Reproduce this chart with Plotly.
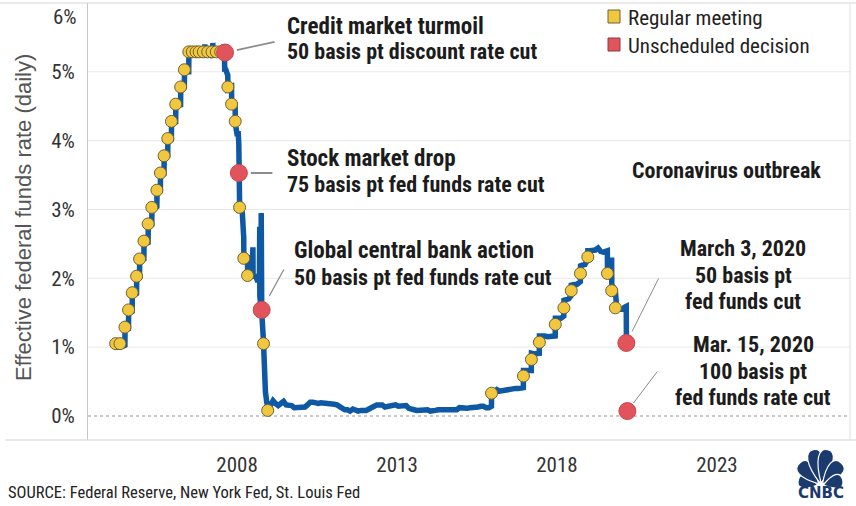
import plotly.graph_objects as go
import math

# ---------------- data ----------------
rate_dates = [
    "2004-03-10", "2004-04-01", "2004-05-01", "2004-06-01", "2004-06-29", "2004-07-01",
    "2004-08-09", "2004-08-11", "2004-09-20", "2004-09-22", "2004-11-09", "2004-11-11",
    "2004-12-13", "2004-12-15",
    "2005-02-01", "2005-02-03", "2005-03-21", "2005-03-23", "2005-05-02", "2005-05-04",
    "2005-06-29", "2005-07-01", "2005-08-08", "2005-08-10", "2005-09-19", "2005-09-21",
    "2005-10-31", "2005-11-02", "2005-12-12", "2005-12-14",
    "2006-01-30", "2006-02-01", "2006-03-27", "2006-03-29", "2006-05-09", "2006-05-11",
    "2006-06-28", "2006-06-30", "2006-09-01", "2006-12-28", "2006-12-29", "2007-01-02",
    "2007-03-29", "2007-03-30", "2007-04-02", "2007-06-29", "2007-08-01", "2007-08-09",
    "2007-08-13", "2007-08-20", "2007-09-17", "2007-09-19", "2007-10-30", "2007-11-01",
    "2007-12-10", "2007-12-12", "2007-12-31", "2008-01-15", "2008-01-21", "2008-01-23",
    "2008-01-29", "2008-01-31", "2008-02-15", "2008-03-01", "2008-03-17", "2008-03-19",
    "2008-04-15", "2008-04-29", "2008-05-01", "2008-05-20", "2008-06-15", "2008-06-30",
    "2008-07-02", "2008-07-20", "2008-08-10", "2008-08-25", "2008-09-12", "2008-09-16",
    "2008-09-17", "2008-09-30", "2008-10-03", "2008-10-06", "2008-10-09", "2008-10-28",
    "2008-10-30", "2008-11-05", "2008-11-20", "2008-12-05", "2008-12-20",
    "2009-01-15", "2009-02-15", "2009-03-15", "2009-04-15", "2009-05-15", "2009-06-15",
    "2009-07-15", "2009-08-15", "2009-09-15", "2009-10-15", "2009-11-15", "2009-12-15",
    "2010-01-15", "2010-02-15", "2010-03-15", "2010-04-15", "2010-05-15", "2010-06-15",
    "2010-07-15", "2010-08-15", "2010-09-15", "2010-10-15", "2010-11-15", "2010-12-15",
    "2011-01-15", "2011-02-15", "2011-03-15", "2011-04-15", "2011-05-15", "2011-06-15",
    "2011-07-15", "2011-08-15", "2011-09-15", "2011-10-15", "2011-11-15", "2011-12-15",
    "2012-01-15", "2012-02-15", "2012-03-15", "2012-04-15", "2012-05-15", "2012-06-15",
    "2012-07-15", "2012-08-15", "2012-09-15", "2012-10-15", "2012-11-15", "2012-12-15",
    "2013-01-15", "2013-02-15", "2013-03-15", "2013-04-15", "2013-05-15", "2013-06-15",
    "2013-07-15", "2013-08-15", "2013-09-15", "2013-10-15", "2013-11-15", "2013-12-15",
    "2014-01-15", "2014-02-15", "2014-03-15", "2014-04-15", "2014-05-15", "2014-06-15",
    "2014-07-15", "2014-08-15", "2014-09-15", "2014-10-15", "2014-11-15", "2014-12-15",
    "2015-01-15", "2015-02-15", "2015-03-15", "2015-04-15", "2015-05-15", "2015-06-15",
    "2015-07-15", "2015-08-15", "2015-09-15", "2015-10-15", "2015-11-15", "2015-12-15",
    "2015-12-17",
    "2016-01-15", "2016-02-15", "2016-03-15", "2016-04-15", "2016-05-15", "2016-06-15",
    "2016-07-15", "2016-08-15", "2016-09-15", "2016-10-15", "2016-11-15", "2016-12-13",
    "2016-12-15",
    "2017-01-15", "2017-02-15", "2017-03-14", "2017-03-16", "2017-04-15", "2017-05-15",
    "2017-06-13", "2017-06-15", "2017-07-15", "2017-08-15", "2017-09-15", "2017-10-15",
    "2017-11-15", "2017-12-12", "2017-12-14",
    "2018-01-15", "2018-02-15", "2018-03-20", "2018-03-22", "2018-04-15", "2018-05-15",
    "2018-06-12", "2018-06-14", "2018-07-15", "2018-08-15", "2018-09-25", "2018-09-27",
    "2018-10-15", "2018-11-15", "2018-12-18", "2018-12-20",
    "2019-01-15", "2019-02-15", "2019-03-15", "2019-04-15", "2019-05-15", "2019-06-15",
    "2019-07-30", "2019-08-01", "2019-09-16", "2019-09-17", "2019-09-19", "2019-10-29",
    "2019-10-31", "2019-11-15", "2019-12-15", "2020-01-15", "2020-02-15", "2020-03-02",
    "2020-03-04",
]
rate_values = [
    1.00, 1.00, 1.00, 1.03, 1.00, 1.26,
    1.27, 1.50, 1.52, 1.75, 1.78, 2.00,
    2.02, 2.25,
    2.28, 2.50, 2.52, 2.75, 2.78, 3.00,
    3.04, 3.25, 3.27, 3.50, 3.52, 3.75,
    3.78, 4.00, 4.02, 4.25,
    4.27, 4.50, 4.52, 4.75, 4.78, 5.00,
    5.00, 5.25, 5.25, 5.25, 5.40, 5.25,
    5.26, 5.42, 5.25, 5.30, 5.26, 5.40,
    5.00, 5.05, 4.95, 4.75, 4.78, 4.50,
    4.55, 4.25, 4.10, 4.10, 3.95, 3.50,
    3.45, 3.00, 3.00, 2.95, 2.60, 2.25,
    2.30, 2.30, 2.00, 2.05, 2.00, 2.45,
    2.00, 2.05, 2.00, 1.95, 2.00, 2.75,
    1.75, 1.55, 2.95, 1.60, 1.50, 1.10,
    0.95, 0.65, 0.35, 0.20, 0.12,
    0.15, 0.22, 0.18, 0.15, 0.18, 0.21,
    0.16, 0.16, 0.15, 0.12, 0.12, 0.12,
    0.11, 0.13, 0.16, 0.20, 0.20, 0.18,
    0.18, 0.19, 0.19, 0.19, 0.19, 0.18,
    0.17, 0.16, 0.14, 0.10, 0.09, 0.09,
    0.07, 0.10, 0.08, 0.07, 0.08, 0.07,
    0.08, 0.10, 0.13, 0.14, 0.16, 0.16,
    0.16, 0.13, 0.14, 0.16, 0.16, 0.16,
    0.14, 0.15, 0.14, 0.15, 0.11, 0.09,
    0.09, 0.08, 0.08, 0.09, 0.08, 0.09,
    0.07, 0.07, 0.08, 0.09, 0.09, 0.10,
    0.09, 0.09, 0.09, 0.09, 0.09, 0.12,
    0.11, 0.11, 0.11, 0.12, 0.12, 0.13,
    0.13, 0.14, 0.14, 0.12, 0.12, 0.14,
    0.37,
    0.34, 0.38, 0.36, 0.37, 0.37, 0.38,
    0.39, 0.40, 0.40, 0.40, 0.41, 0.41,
    0.66,
    0.65, 0.66, 0.66, 0.91, 0.90, 0.91,
    0.91, 1.16, 1.15, 1.16, 1.15, 1.15,
    1.16, 1.16, 1.42,
    1.41, 1.42, 1.45, 1.68, 1.69, 1.70,
    1.75, 1.90, 1.91, 1.91, 1.95, 2.18,
    2.19, 2.20, 2.27, 2.40,
    2.40, 2.40, 2.41, 2.44, 2.39, 2.38,
    2.40, 2.13, 2.25, 2.30, 1.90, 1.83,
    1.58, 1.55, 1.55, 1.55, 1.58, 1.59,
    1.09,
]

regular_dates = [
    "2004-03-16", "2004-05-04", "2004-06-30", "2004-08-10", "2004-09-21", "2004-11-10",
    "2004-12-14", "2005-02-02", "2005-03-22", "2005-05-03", "2005-06-30", "2005-08-09",
    "2005-09-20", "2005-11-01", "2005-12-13", "2006-01-31", "2006-03-28", "2006-05-10",
    "2006-06-29", "2006-08-08", "2006-09-20", "2006-10-25", "2006-12-12", "2007-01-31",
    "2007-03-21", "2007-05-09", "2007-06-28", "2007-08-07", "2007-09-18", "2007-10-31",
    "2007-12-11", "2008-01-30", "2008-03-18", "2008-04-30", "2008-10-29", "2008-12-16",
    "2015-12-16", "2016-12-14", "2017-03-15", "2017-06-14", "2017-12-13", "2018-03-21",
    "2018-06-13", "2018-09-26", "2018-12-19", "2019-07-31", "2019-09-18", "2019-10-30",
]
regular_values = [
    1.05, 1.05, 1.29, 1.54, 1.79, 2.03,
    2.28, 2.54, 2.79, 3.03, 3.28, 3.53,
    3.78, 4.03, 4.28, 4.53, 4.78, 5.03,
    5.29, 5.29, 5.29, 5.29, 5.29, 5.29,
    5.29, 5.29, 5.29, 5.29, 4.78, 4.53,
    4.28, 3.03, 2.29, 2.04, 1.05, 0.08,
    0.33, 0.58, 0.82, 1.07, 1.33, 1.57,
    1.82, 2.07, 2.31, 2.07, 1.82, 1.57,
]

unscheduled_dates = ["2007-08-17", "2008-01-22", "2008-10-08", "2020-03-03", "2020-03-15"]
unscheduled_values = [5.28, 3.53, 1.54, 1.06, 0.07]

ytick_vals = [0, 1, 2, 3, 4, 5]
ytick_text = ["0%", "1%", "2%", "3%", "4%", "5%"]
ytop_label = "6%"
xtick_vals = ["2008-01-01", "2013-01-01", "2018-01-01", "2023-01-01"]
xtick_text = ["2008", "2013", "2018", "2023"]

legend_labels = ["Regular meeting", "Unscheduled decision"]

# ---------------- style ----------------
W, H = 856, 506
ML, MR, MT, MB = 88, 6, 3, 66
PW, PH = W - ML - MR, H - MT - MB

BLUE = "#0f58a3"
YELLOW = "#f1c73f"
YELLOW_EDGE = "#6e6232"
RED = "#e2545b"
RED_EDGE = "#c9474e"
NAVY = "#1b3a6e"
NARROW = "Liberation Sans Narrow, Arial Narrow, Roboto Condensed, DejaVu Sans Condensed, sans-serif"
SANS = "Liberation Sans, Arial, sans-serif"


def px(x, y):
    """pixel position in the page -> paper coordinates"""
    return (x - ML) / PW, (MT + PH - y) / PH


fig = go.Figure()
fig.add_trace(go.Scatter(x=rate_dates, y=rate_values, mode="lines",
                         line=dict(color=BLUE, width=5.5), hoverinfo="skip"))
fig.add_trace(go.Scatter(x=regular_dates, y=regular_values, mode="markers",
                         marker=dict(size=12, color=YELLOW, line=dict(color=YELLOW_EDGE, width=1))))
fig.add_trace(go.Scatter(x=unscheduled_dates, y=unscheduled_values, mode="markers",
                         marker=dict(size=17, color=RED, line=dict(color=RED_EDGE, width=1))))

shapes = []
# gridlines
for v in ytick_vals[1:]:
    shapes.append(dict(type="line", xref="paper", yref="y", x0=0, x1=1, y0=v, y1=v,
                       line=dict(color="#e8e8e8", width=1), layer="below"))
shapes.append(dict(type="line", xref="paper", yref="y", x0=0, x1=1, y0=0, y1=0,
                   line=dict(color="#b8b8b8", width=1.5, dash="dot"), layer="below"))
# frame lines
x0p, _ = px(0, 0)
x1p, _ = px(856, 0)
shapes.append(dict(type="line", xref="paper", yref="paper", x0=x0p, x1=x1p, y0=1, y1=1,
                   line=dict(color="#d6d6d6", width=1)))
x0b, _ = px(5, 0)
shapes.append(dict(type="line", xref="paper", yref="paper", x0=x0b, x1=x1p, y0=0, y1=0,
                   line=dict(color="#d0d0d0", width=1.2)))
shapes.append(dict(type="line", xref="paper", yref="paper", x0=1, x1=1, y0=0, y1=1,
                   line=dict(color="#e0e0e0", width=1)))

# legend squares
for (ty, col, edge) in [(10, YELLOW, YELLOW_EDGE), (38, RED, "#8a3a3a")]:
    a = px(608, ty)
    b = px(620, ty + 13)
    shapes.append(dict(type="rect", xref="paper", yref="paper", x0=a[0], x1=b[0], y0=b[1], y1=a[1],
                       fillcolor=col, line=dict(color=edge, width=1)))

# CNBC peacock
base = (820.5, 486)
feathers = [(164, 23, 9.0), (132, 31, 10.5), (101, 37, 10.0), (79, 37, 10.0), (48, 31, 10.5), (16, 23, 9.0)]
for ang, L, w in feathers:
    t = math.radians(ang)
    u = (math.cos(t), -math.sin(t))
    p = (math.sin(t), math.cos(t))
    s = 3.0
    A = (base[0] + s * u[0], base[1] + s * u[1])
    T = (base[0] + L * u[0], base[1] + L * u[1])
    M = (base[0] + (s + 0.6 * (L - s)) * u[0], base[1] + (s + 0.6 * (L - s)) * u[1])
    pts = [
        A,
        (M[0] + w * p[0], M[1] + w * p[1]), (T[0] + w * p[0], T[1] + w * p[1]), T,
        (T[0] - w * p[0], T[1] - w * p[1]), (M[0] - w * p[0], M[1] - w * p[1]), A,
    ]
    pp = [px(*q) for q in pts]
    path = "M {:.5f},{:.5f} C {:.5f},{:.5f} {:.5f},{:.5f} {:.5f},{:.5f} C {:.5f},{:.5f} {:.5f},{:.5f} {:.5f},{:.5f} Z".format(
        *[c for q in pp for c in q])
    shapes.append(dict(type="path", xref="paper", yref="paper", path=path,
                       fillcolor=NAVY, line=dict(color="white", width=1.2)))

annotations = []


def text(s, x, y, size=22, bold=True, anchor="left", color="#1c1c1c", family=NARROW):
    xp, yp = px(x, y)
    annotations.append(dict(xref="paper", yref="paper", x=xp, y=yp, text=("<b>%s</b>" % s) if bold else s,
                            showarrow=False, xanchor=anchor, yanchor="middle",
                            font=dict(family=family, size=size, color=color)))


text("Credit market turmoil", 285, 26, size=23)
text("50 basis pt discount rate cut", 285, 52)
text("Stock market drop", 285, 158, size=23)
text("75 basis pt fed funds rate cut", 285, 184)
text("Global central bank action", 292, 251, size=23)
text("50 basis pt fed funds rate cut", 292, 277)
text("Coronavirus outbreak", 726, 170, anchor="center")
text("March 3, 2020", 743, 248, anchor="center")
text("50 basis pt", 743, 275, anchor="center")
text("fed funds cut", 743, 301, anchor="center")
text("Mar. 15, 2020", 753, 344, anchor="center")
text("100 basis pt", 753, 371, anchor="center")
text("fed funds rate cut", 753, 397, anchor="center")

text(legend_labels[0], 626, 18, size=21, bold=False, color="#222")
text(legend_labels[1], 626, 46, size=21, bold=False, color="#222")

text("SOURCE: Federal Reserve, New York Fed, St. Louis Fed", 6, 492, size=16.5, bold=False, color="#222")
text("CNBC", 820.5, 493, size=15, bold=True, anchor="center", color=NAVY, family="DejaVu Sans, sans-serif")

text(ytop_label, 79, 17, size=21, bold=False, anchor="right", color="#333")

# y axis title
xp, yp = px(23, 218)
annotations.append(dict(xref="paper", yref="paper", x=xp, y=yp, text="Effective federal funds rate (daily)",
                        textangle=-90, showarrow=False, xanchor="center", yanchor="middle",
                        font=dict(family=SANS, size=22, color="#555")))

# pointer lines anchored on the decision points
pointers = [(0, 51, -11, 12, 1.8), (1, 35, 0, 12, 1.8), (2, 23, -42, 16, 1.2), (3, 33, -66, 13, 1.0), (4, 31, -41, 10, 1.0)]
for i, ax, ay, so, lw in pointers:
    annotations.append(dict(x=unscheduled_dates[i], y=unscheduled_values[i], xref="x", yref="y",
                            text="", showarrow=True, arrowhead=0, ax=ax, ay=ay, axref="pixel", ayref="pixel",
                            standoff=so, arrowwidth=lw, arrowcolor="#8c8c8c"))

fig.update_layout(
    width=W, height=H,
    margin=dict(l=ML, r=MR, t=MT, b=MB),
    paper_bgcolor="white", plot_bgcolor="white",
    showlegend=False,
    hovermode=False,
    xaxis=dict(type="date", range=["2003-05-05", "2027-03-01"], tickvals=xtick_vals, ticktext=xtick_text,
               showgrid=False, zeroline=False, showline=False, ticks="",
               tickfont=dict(family=NARROW, size=21, color="#333"), ticklabelstandoff=10),
    yaxis=dict(range=[-0.35, 6.0], tickvals=ytick_vals, ticktext=ytick_text, showgrid=False,
               zeroline=False, showline=True, linecolor="#c8c8c8", linewidth=1, ticks="",
               tickfont=dict(family=NARROW, size=21, color="#333"), ticklabelstandoff=8),
    shapes=shapes,
    annotations=annotations,
)

fig.write_html("out.html", config={"displayModeBar": False},
               post_script="document.body.style.margin='0px';document.body.style.overflow='hidden';")
